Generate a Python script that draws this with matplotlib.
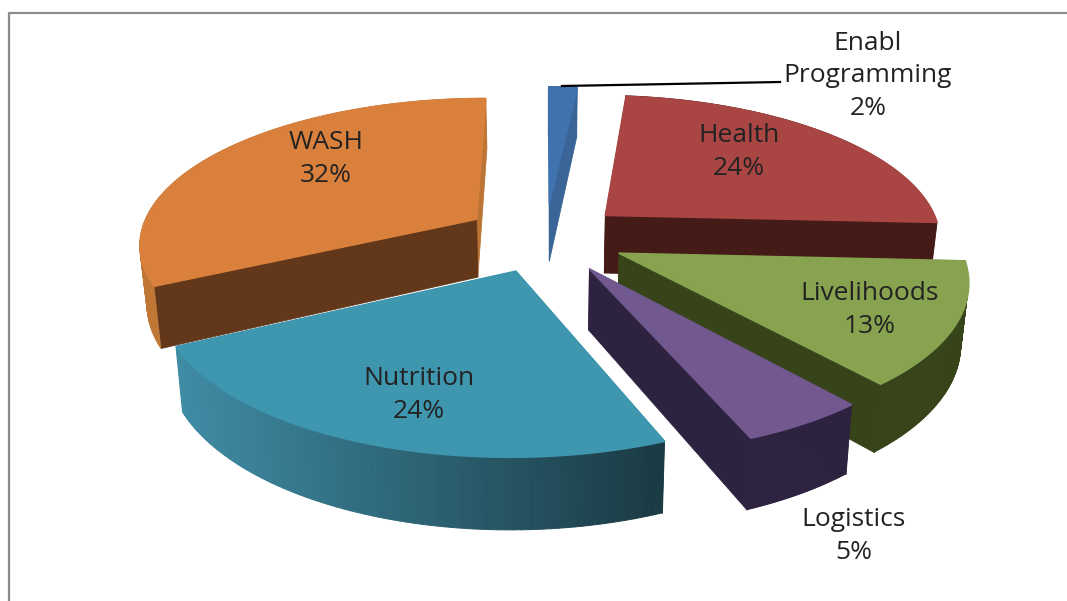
import numpy as np
import matplotlib
matplotlib.use("Agg")
import matplotlib.pyplot as plt
from matplotlib.collections import PolyCollection
from matplotlib.colors import to_rgb

categories = ["Enabl\nProgramming", "Health", "Livelihoods", "Logistics", "Nutrition", "WASH"]
values = [1.6, 24.2, 13.1, 5.0, 23.7, 32.4]

# styles
top_colors = ["#3F72AE", "#A94543", "#87A34F", "#71588F", "#3F96AF", "#D9813C"]
cut_start = ["#3A6596", "#451B18", "#374319", "#2D2340", "#1A3A44", "#63381A"]
cut_end = ["#3A6596", "#451B18", "#374319", "#2D2340", "#3F8CA5", "#BC7435"]
rim_left = ["#3A6596", "#451B18", "#374319", "#2D2340", "#3F8CA5", "#C07634"]
rim_right = ["#3A6596", "#451B18", "#374319", "#2D2340", "#1A3A44", "#C07634"]
explode = [0.24, 0.24, 0.24, 0.245, 0.24, 0.245]
draw_order = [0, 1, 5, 2, 3, 4]
label_xy = [(868, 76), (739, 152), (870, 310), (854, 536), (419, 395), (326, 159)]

# camera
CX, HY0, A, D, B, C, SHRINK = 545.0, 237.0, 5840.0, 6.35, 2141.0, 375.0, 0.018
HY = HY0 - A / D


def project(X, Y, Z=0.0):
    X, Y = np.asarray(X, float), np.asarray(Y, float)
    d = D + Y
    x = CX + B * X / d * (1 - SHRINK * Z)
    y = HY + (A + C * Z) / d
    return np.column_stack([x, y])


fig = plt.figure(figsize=(1067 / 100, 601 / 100), dpi=100)
ax = fig.add_axes([0, 0, 1, 1])
ax.set_xlim(0, 1067)
ax.set_ylim(601, 0)
ax.axis("off")

# frame
ax.plot([9, 9, 1067], [601, 12.5, 12.5], color="#8C8C8C", lw=1.6)

total = sum(values)
cum = np.cumsum([0] + values) / total * 2 * np.pi


def add_polys(polys, colors, lw=0.4):
    ax.add_collection(PolyCollection(polys, facecolors=colors, edgecolors=colors, linewidths=lw))


for i in draw_order:
    a0, a1 = cum[i], cum[i + 1]
    mid = (a0 + a1) / 2
    ox, oy = explode[i] * np.sin(mid), explode[i] * np.cos(mid)
    th = np.linspace(a0, a1, 80)
    X, Y = ox + np.sin(th), oy + np.cos(th)
    top = project(X, Y, 0)
    bot = project(X, Y, 1)
    apex_t = project([ox], [oy], 0)[0]
    apex_b = project([ox], [oy], 1)[0]
    # cut faces: the closing one first, the opening one after
    add_polys([[apex_t, top[-1], bot[-1], apex_b]], [cut_end[i]], lw=0.6)
    add_polys([[apex_t, top[0], bot[0], apex_b]], [cut_start[i]], lw=0.6)
    # outer wall
    c0, c1 = np.array(to_rgb(rim_left[i])), np.array(to_rgb(rim_right[i]))
    quads, cols = [], []
    for k in range(len(th) - 1):
        quads.append([top[k], top[k + 1], bot[k + 1], bot[k]])
        xm = (top[k][0] - top[:, 0].min()) / max(np.ptp(top[:, 0]), 1)
        cols.append(c0 + (c1 - c0) * xm)
    add_polys(quads, cols, lw=0.7)
    # top face, its stroke covers what the walls bleed past the rim
    add_polys([np.vstack([apex_t[None], top])], [top_colors[i]], lw=1.2)

# leader line
ax.plot([562, 780], [86, 82], color="black", lw=1.6)

for name, v, (x, y) in zip(categories, values, label_xy):
    ax.text(x, y, f"{name}\n{v:.0f}%", ha="center", va="center", fontsize=19,
            family="Open Sans", color="#222222", linespacing=1.4)

fig.savefig("out.png", dpi=100)
